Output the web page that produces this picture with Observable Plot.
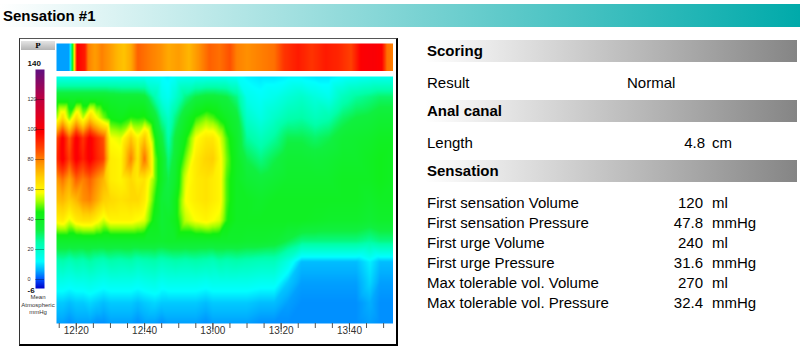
<!DOCTYPE html>
<html><head><meta charset="utf-8">
<script src="https://cdn.jsdelivr.net/npm/d3@7"></script>
<script src="https://cdn.jsdelivr.net/npm/@observablehq/plot@0.6"></script>
<style>
body{margin:0;background:#fff;font-family:Arial,"Liberation Sans",sans-serif;color:#000;}
#root{position:relative;width:800px;height:351px;overflow:hidden;}
.a{position:absolute;white-space:nowrap;}
.hdr{left:425px;width:372px;height:22px;line-height:22px;font-weight:bold;font-size:15px;padding-left:2px;box-sizing:border-box;background:linear-gradient(to right,#ffffff 0%,#858585 100%);}
.row{font-size:15px;line-height:20px;height:20px;}
</style></head>
<body><div id="root"></div>
<script>
// ---------- data ----------
const titleText = "Sensation #1";
const colorStops = [-6, 0, 6, 12, 25, 33, 45, 52, 58, 68, 78, 88, 98, 120, 140];
const colorRamp  = ["#0000c8","#0050ff","#00b0ff","#00ffff","#00ffa8","#10f040","#10f010","#a0ff00","#ffff00","#ffd000","#ff9000","#ff4000","#ff0000","#c00040","#601080"];
const barTicks = [0, 20, 40, 60, 80, 100, 120];
const barMax = 140, barMin = -6;
const barUnitLines = ["Mean", "Atmospheric", "mmHg"];

// time in minutes after 12:00
const minorTicks = [15,20,25,30,35,40,45,50,55,60,65,70,75,80,85,90,95,100,105,110];
const majorTicks = [20, 40, 60, 80, 100];
const tickLabels = ["12:20", "12:40", "13:00", "13:20", "13:40"];

const minutes = [14.2,16,18,20,22,24,26,28,30,33,36,38,40,43,45,47,49,52,55,58,60,62,64,67,70,74,78,82,86,90,94,98,102,106,109,112.9];
const sensors = [0,1,2,3,4,5,6,7,8,9,10,11,12];
const pressure = [
 [14,14,14,14,14,14,14,14,14,14,14,14,14,13,12,11,13,14,14,14,14,14,14,13,11,10,10,11,11,10,10,12,13,14,14,14],
 [38,38,38,38,38,38,38,38,37,36,36,36,35,24,16,14,19,28,33,35,35,34,33,28,15,13,15,18,20,17,15,22,26,28,30,30],
 [52,66,50,66,54,68,58,50,44,42,46,45,46,36,26,20,28,38,46,50,48,44,40,35,20,16,20,24,25,22,24,30,33,34,36,36],
 [86,100,84,100,90,100,92,86,58,56,70,60,70,46,34,24,34,44,58,63,63,57,48,38,26,22,26,32,32,30,32,36,37,38,40,40],
 [90,100,88,100,93,100,93,88,62,60,80,64,82,50,40,28,36,50,62,67,68,60,50,40,32,28,32,36,36,35,36,38,38,40,42,40],
 [76,82,74,84,80,84,78,72,62,60,66,62,64,50,40,32,38,56,62,64,62,60,48,40,36,34,36,38,38,38,38,40,40,40,42,40],
 [70,72,68,72,78,80,74,68,66,64,66,66,62,46,36,34,42,58,62,64,62,60,48,40,40,38,40,40,40,40,40,40,40,38,40,40],
 [60,62,56,62,64,64,60,55,60,60,60,58,56,42,36,38,42,54,58,60,58,56,46,40,40,40,40,40,40,39,38,38,38,36,38,38],
 [38,38,38,38,38,38,38,38,38,38,38,38,38,38,37,38,38,38,38,38,38,38,38,38,37,37,36,32,28,28,28,28,28,26,28,28],
 [23,24,22,24,23,25,23,22,24,23,24,22,23,24,22,23,24,23,24,23,22,24,23,24,23,22,22,16,7,7,7,7,7,11,7,7],
 [15,15,14,15,15,16,15,14,15,15,15,14,15,16,14,15,15,15,15,14,15,15,15,15,15,14,14,8,5,5,5,5,5,9,5,5],
 [8,8,7,8,8,9,8,7,8,8,8,7,8,9,8,8,8,8,8,7,8,8,8,8,8,7,7,5,4,4,4,4,4,6,4,4],
 [5,5,4,5,5,5,4,4,5,5,5,4,5,5,4,5,5,5,5,4,5,5,5,5,5,4,4,4,4,4,4,4,4,5,4,4]
];

const sleeveMinutes  = [14.2,18.0,18.8,19.4,20.2,22.5,23.5,25.5,27.5,30,32,34,36,38,40,42,44.6,47,50,53,56,59,62,65,67,70,74,78,81,85,89,93,97,100.5,103.5,107,109.5,111,112.9];
const sleevePressure = [5,5,35,62,98,94,80,76,80,76,72,70,74,84,82,80,78,74,76,72,78,84,82,86,80,78,80,82,90,94,90,94,92,88,99,100,98,82,80];

const sectionTitles = ["Scoring", "Anal canal", "Sensation"];
const scoringLabel = "Result", scoringValue = "Normal";
const lengthLabel = "Length", lengthValue = "4.8", lengthUnit = "cm";
const sensationLabels = ["First sensation Volume","First sensation Pressure","First urge Volume","First urge Pressure","Max tolerable vol. Volume","Max tolerable vol. Pressure"];
const sensationValues = ["120","47.8","240","31.6","270","32.4"];
const sensationUnits  = ["ml","mmHg","ml","mmHg","ml","mmHg"];

// ---------- layout ----------
const root = document.getElementById("root");
function el(cls, css, text) {
  const d = document.createElement("div");
  d.className = cls; d.style.cssText = css; if (text !== undefined) d.textContent = text;
  root.appendChild(d); return d;
}
// title bar
el("a", "left:0;top:4px;width:800px;height:23px;background:linear-gradient(to right,#ffffff 0%,#00aaaa 100%);");
el("a", "left:3px;top:4px;height:23px;line-height:23px;font-size:15px;font-weight:bold;", titleText);

// chart box
el("a", "left:19px;top:38px;width:379px;height:308px;box-sizing:border-box;border-top:1px solid #555;border-left:1px solid #333;border-right:2px solid #000;border-bottom:2px solid #000;");
el("a", "left:21px;top:41px;width:34px;height:9px;background:linear-gradient(#e4e4e4,#b4b4b4);font-size:7px;font-weight:bold;line-height:9px;text-align:center;font-family:'DejaVu Serif',serif;", "P");
barUnitLines.forEach((t, i) => el("a", `left:17px;width:42px;text-align:center;top:${294 + i * 7.5}px;font-size:6px;line-height:7px;color:#333;`, t));

const font = "Arial, 'Liberation Sans', sans-serif";
const colorScale = {type: "linear", domain: colorStops, range: colorRamp, clamp: true};

function place(svg, left, top) {
  svg.style.position = "absolute"; svg.style.left = left + "px"; svg.style.top = top + "px";
  svg.style.background = "transparent"; svg.style.maxWidth = "none";
  root.appendChild(svg);
}

// main heatmap
const cells = [];
sensors.forEach((s, i) => minutes.forEach((t, j) => cells.push({t, s, p: pressure[i][j]})));
const main = Plot.plot({
  width: 337, height: 272, marginTop: 0, marginBottom: 25, marginLeft: 0, marginRight: 0,
  style: {fontFamily: font, fontSize: "10px", color: "#333", background: "transparent"},
  x: {domain: [minutes[0], minutes[minutes.length - 1]], label: null},
  y: {domain: [sensors[0], sensors[sensors.length - 1]], reverse: true, axis: null, label: null},
  color: colorScale,
  marks: [
    Plot.raster(cells, {x: "t", y: "s", fill: "p", interpolate: "barycentric",
      x1: minutes[0], x2: minutes[minutes.length - 1], y1: sensors[0], y2: sensors[sensors.length - 1]}),
    Plot.axisX({ticks: minorTicks, tickSize: 5, tickFormat: () => "", stroke: "#555", label: null}),
    Plot.axisX({ticks: majorTicks, tickSize: 9, tickFormat: () => "", stroke: "#555", label: null}),
    Plot.text(majorTicks, {x: d => d, text: (d, i) => tickLabels[i], frameAnchor: "bottom", lineAnchor: "top", dy: 3, fill: "#333", fontSize: 10})
  ]
});
place(main, 56, 76);

// sleeve strip
const sleeveCells = sleeveMinutes.flatMap((t, i) => [{t, s: 0, p: sleevePressure[i]}, {t, s: 1, p: sleevePressure[i]}]);
const strip = Plot.plot({
  width: 337, height: 28, margin: 0,
  x: {domain: [sleeveMinutes[0], sleeveMinutes[sleeveMinutes.length - 1]], axis: null},
  y: {domain: [0, 1], axis: null},
  color: colorScale,
  marks: [Plot.raster(sleeveCells, {x: "t", y: "s", fill: "p", interpolate: "barycentric",
    x1: sleeveMinutes[0], x2: sleeveMinutes[sleeveMinutes.length - 1], y1: 0, y2: 1})]
});
place(strip, 56, 43);

// colour bar
const bar = Plot.plot({
  width: 30, height: 240, marginTop: 11, marginBottom: 10, marginLeft: 15, marginRight: 6,
  style: {fontFamily: font, overflow: "visible"},
  x: {domain: [0, 1], axis: null},
  y: {domain: [barMin, barMax], axis: null},
  color: colorScale,
  marks: [
    Plot.raster({x1: 0, x2: 1, y1: barMin, y2: barMax, fill: (x, y) => y}),
    Plot.ruleY(barTicks, {y: d => d, x1: 0, x2: 1, stroke: "#000", strokeOpacity: 0.3}),
    Plot.text(barTicks, {y: d => d, text: d => String(d), frameAnchor: "left", dx: -8, textAnchor: "start", fontSize: 5.5, fill: "#333"}),
    Plot.text([barMax], {y: d => d, text: d => String(d), frameAnchor: "left", dx: -8, dy: -6, textAnchor: "start", fontSize: 8, fontWeight: "bold", fill: "#111"}),
    Plot.text([barMin], {y: d => d, text: d => String(d), frameAnchor: "left", dx: -8, dy: 2, textAnchor: "start", fontSize: 8, fontWeight: "bold", fill: "#111"})
  ]
});
place(bar, 20, 58);

// ---------- table ----------
const hdrTops = [40, 100, 160];
sectionTitles.forEach((t, i) => el("a hdr", `top:${hdrTops[i]}px;`, t));
el("a row", "left:427px;top:73px;", scoringLabel);
el("a row", "left:627px;top:73px;", scoringValue);
el("a row", "left:427px;top:133px;", lengthLabel);
el("a row", "left:605px;width:100px;text-align:right;top:133px;", lengthValue);
el("a row", "left:712px;top:133px;", lengthUnit);
sensationLabels.forEach((t, i) => {
  const top = 193 + i * 20;
  el("a row", `left:427px;top:${top}px;`, t);
  el("a row", `left:603px;width:100px;text-align:right;top:${top}px;`, sensationValues[i]);
  el("a row", `left:712px;top:${top}px;`, sensationUnits[i]);
});
</script>
</body></html>
